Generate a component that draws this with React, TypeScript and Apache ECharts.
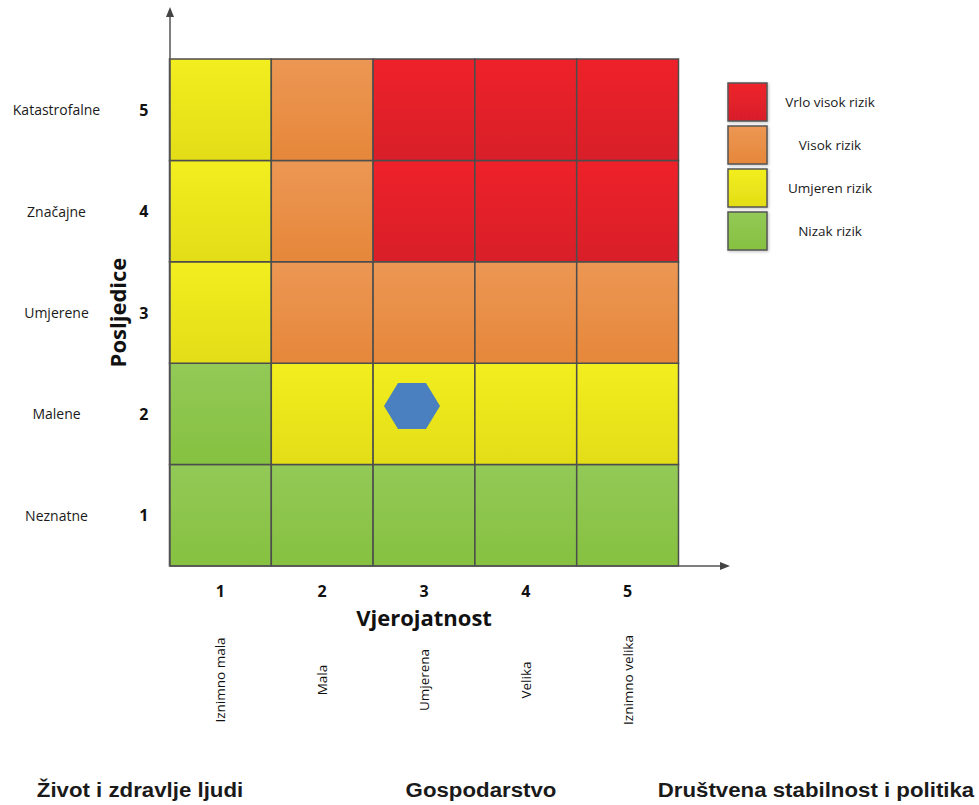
import React, { useEffect, useRef } from "react";
import * as echarts from "echarts";

// ---------- data ----------
const xTicks = ["1", "2", "3", "4", "5"];
const xNames = ["Iznimno mala", "Mala", "Umjerena", "Velika", "Iznimno velika"];
const yTicks = ["1", "2", "3", "4", "5"];
const yNames = ["Neznatne", "Malene", "Umjerene", "Značajne", "Katastrofalne"];
// risk level per row (posljedice 1..5), per column (vjerojatnost 1..5); 0 = nizak, 3 = vrlo visok
const riskRows = [
  [0, 0, 0, 0, 0],
  [0, 1, 1, 1, 1],
  [1, 2, 2, 2, 2],
  [1, 2, 3, 3, 3],
  [1, 2, 3, 3, 3],
];
const levelNames = ["Nizak rizik", "Umjeren rizik", "Visok rizik", "Vrlo visok rizik"];
const levelTop = ["#93C957", "#F3EE1F", "#EC9754", "#EE2129"];
const levelBottom = ["#86C140", "#E2DD17", "#E6873A", "#D81F29"];
const hazardPoint = [["3", "2"]];
const impactAreas = ["Život i zdravlje ljudi", "Gospodarstvo", "Društvena stabilnost i politika"];
const impactCenters = [140, 481, 816];

const grad = (i: number) =>
  new echarts.graphic.LinearGradient(0, 0, 0, 1, [
    { offset: 0, color: levelTop[i] },
    { offset: 1, color: levelBottom[i] },
  ]);

export default function App() {
  const ref = useRef<HTMLDivElement>(null);
  useEffect(() => {
    if (!ref.current) return;
    const chart = echarts.init(ref.current, undefined, { renderer: "svg" });
    const cells: any[] = [];
    riskRows.forEach((row, yi) => row.forEach((lvl, xi) => cells.push([xi, yi, lvl])));
    const legendOrder = [3, 2, 1, 0];
    const legendGraphics: any[] = [];
    legendOrder.forEach((lvl, k) => {
      const y = 83 + k * 43;
      legendGraphics.push({
        type: "rect",
        shape: { x: 728, y, width: 39, height: 38 },
        style: { fill: grad(lvl), stroke: "#555", lineWidth: 1.5, shadowBlur: 3, shadowColor: "rgba(0,0,0,0.25)", shadowOffsetX: 1, shadowOffsetY: 1 },
      });
      legendGraphics.push({
        type: "text",
        x: 830,
        y: y + 19,
        style: { text: levelNames[lvl], fill: "#1a1a1a", font: "13.5px 'Open Sans'", align: "center", verticalAlign: "middle" },
      });
    });
    const impactGraphics = impactAreas.map((t, i) => ({
      type: "text",
      x: impactCenters[i],
      y: 790,
      scaleX: 1.06,
      style: { text: t, fill: "#1a1a1a", font: "bold 21px 'Liberation Sans', Arial", align: "center", verticalAlign: "middle" },
    }));
    chart.setOption({
      animation: false,
      backgroundColor: "#fff",
      grid: { left: 169.5, top: 59, width: 509, height: 507 },
      xAxis: [
        {
          type: "category",
          data: xTicks,
          position: "bottom",
          axisLine: { show: false },
          axisTick: { show: false },
          splitLine: { show: false },
          axisLabel: { margin: 17, color: "#111", fontFamily: "Open Sans", fontWeight: "bold", fontSize: 16 },
          name: "Vjerojatnost",
          nameLocation: "middle",
          nameGap: 51,
          nameTextStyle: { color: "#111", fontFamily: "Open Sans", fontWeight: "bold", fontSize: 22, verticalAlign: "middle" },
        },
        {
          type: "category",
          data: xNames,
          position: "bottom",
          axisLine: { show: false },
          axisTick: { show: false },
          splitLine: { show: false },
          axisLabel: { rotate: 90, align: "center", verticalAlign: "middle", margin: 114, color: "#111", fontFamily: "Open Sans", fontSize: 13.5 },
        },
      ],
      yAxis: [
        {
          type: "category",
          data: yTicks,
          axisLine: { show: false },
          axisTick: { show: false },
          splitLine: { show: false },
          axisLabel: { margin: 21, color: "#111", fontFamily: "Open Sans", fontWeight: "bold", fontSize: 16 },
          name: "Posljedice",
          nameLocation: "middle",
          nameGap: 50,
          nameRotate: 90,
          nameTextStyle: { color: "#111", fontFamily: "Open Sans", fontWeight: "bold", fontSize: 22, verticalAlign: "middle" },
        },
        {
          type: "category",
          data: yNames,
          position: "left",
          axisLine: { show: false },
          axisTick: { show: false },
          splitLine: { show: false },
          axisLabel: { margin: 113, align: "center", color: "#1a1a1a", fontFamily: "Open Sans", fontSize: 14 },
        },
      ],
      series: [
        {
          type: "custom",
          xAxisIndex: 0,
          yAxisIndex: 0,
          data: cells,
          encode: { x: 0, y: 1 },
          renderItem: (params: any, api: any) => {
            const c = api.coord([api.value(0), api.value(1)]);
            const s = api.size([1, 1]);
            const lvl = api.value(2);
            return {
              type: "rect",
              shape: { x: c[0] - s[0] / 2, y: c[1] - s[1] / 2, width: s[0], height: s[1] },
              style: { fill: grad(lvl), stroke: "#4d4d4d", lineWidth: 1.5 },
            };
          },
          silent: true,
        },
        {
          type: "scatter",
          xAxisIndex: 0,
          yAxisIndex: 0,
          data: hazardPoint,
          symbol: "path://M1,0 L3,0 L4,1.732 L3,3.464 L1,3.464 L0,1.732 Z",
          symbolSize: [56, 46],
          symbolOffset: [-12, -8],
          itemStyle: { color: "#4A80C0", opacity: 1 },
          z: 5,
          silent: true,
        },
      ],
      graphic: [
        { type: "line", shape: { x1: 170, y1: 566, x2: 170, y2: 14 }, style: { stroke: "#555", lineWidth: 1.5 }, z: 10 },
        { type: "polygon", shape: { points: [[170, 7], [166, 17], [174, 17]] }, style: { fill: "#444" }, z: 10 },
        { type: "line", shape: { x1: 170, y1: 566, x2: 723, y2: 566 }, style: { stroke: "#555", lineWidth: 1.5 }, z: 10 },
        { type: "polygon", shape: { points: [[730, 566], [720, 562], [720, 570]] }, style: { fill: "#444" }, z: 10 },
        ...legendGraphics,
        ...impactGraphics,
      ],
    });
    return () => chart.dispose();
  }, []);
  return <div ref={ref} style={{ position: "fixed", left: 0, top: 0, width: 979, height: 805 }} />;
}
